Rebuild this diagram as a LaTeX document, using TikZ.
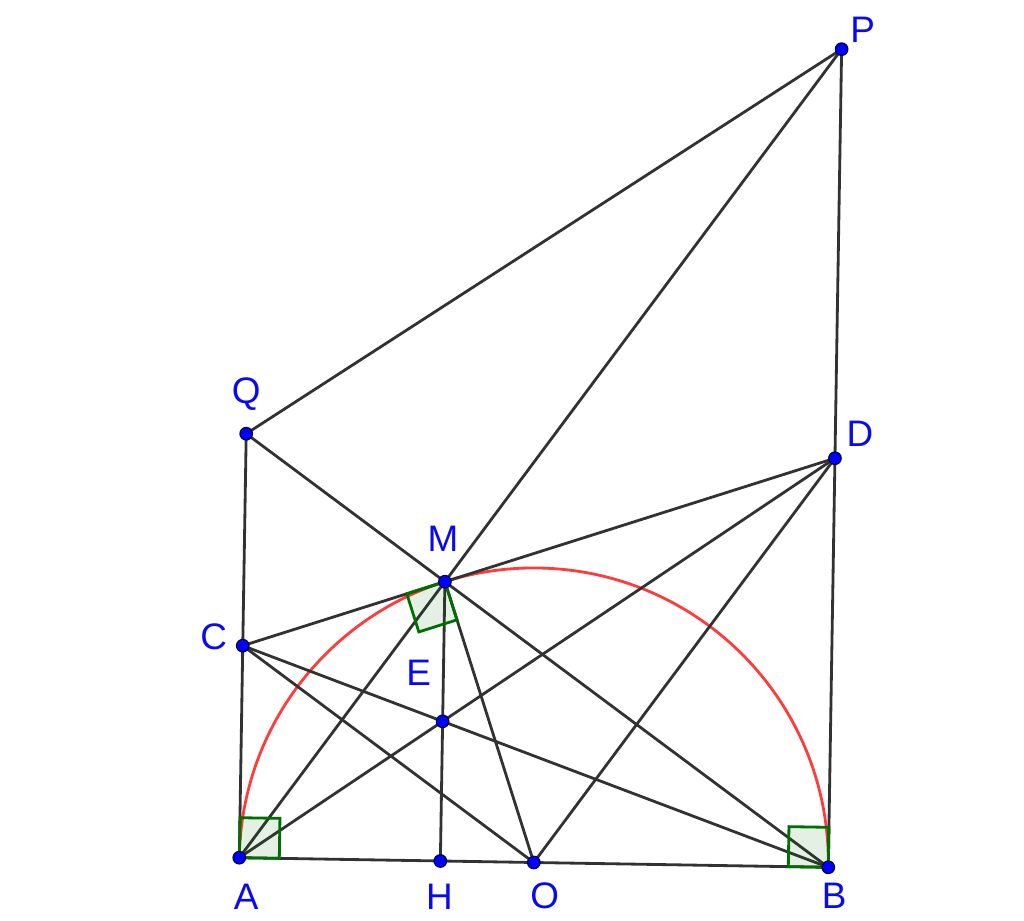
\documentclass[tikz,border=0pt]{standalone}
\usepackage{fontspec}
\setmainfont{Liberation Sans}
\usetikzlibrary{calc}
\definecolor{segc}{RGB}{50,50,50}
\definecolor{arcred}{RGB}{255,60,60}
\definecolor{ptblue}{RGB}{0,0,255}
\definecolor{ptdark}{RGB}{0,0,80}
\definecolor{lblblue}{RGB}{10,10,240}
\definecolor{angg}{RGB}{0,110,0}
\begin{document}
\begin{tikzpicture}[
  seg/.style={draw=segc, line width=0.8pt},
  halfcirc/.style={draw=arcred, line width=0.8pt},
  ptdot/.style={circle, fill=ptblue, draw=ptdark, line width=0.35pt, inner sep=0pt, minimum size=0.125cm},
  lbl/.style={text=lblblue, font=\fontsize{10.5}{12}\selectfont, inner sep=0pt},
  rightang/.style={draw=angg, fill=angg, fill opacity=0.1, line width=0.8pt}
]
\useasboundingbox (0,0) rectangle (10.24,9.20);
\pgfmathsetmacro{\cth}{cos(108.5)}
\pgfmathsetmacro{\sth}{sin(108.5)}
\begin{scope}[shift={(5.338,0.575)}, rotate=-0.934, scale=2.9454]
  \coordinate (A) at (-1,0);
  \coordinate (B) at (1,0);
  \coordinate (O) at (0,0);
  \coordinate (M) at (\cth,\sth);
  \coordinate (H) at (\cth,0);
  \coordinate (E) at (\cth,{\sth/2});
  \coordinate (C) at (-1,{(1+\cth)/\sth});
  \coordinate (D) at (1,{(1-\cth)/\sth});
  \coordinate (P) at (1,{2*\sth/(1+\cth)});
  \coordinate (Q) at (-1,{2*\sth/(1-\cth)});
  % semicircle
  \draw[halfcirc] (1,0) arc[start angle=0, end angle=180, radius=1];
\end{scope}
% segments
\draw[seg] (A) -- (B);
\draw[seg] (A) -- (Q);
\draw[seg] (B) -- (P);
\draw[seg] (Q) -- (P);
\draw[seg] (Q) -- (B);
\draw[seg] (A) -- (P);
\draw[seg] (C) -- (D);
\draw[seg] (C) -- (O);
\draw[seg] (C) -- (B);
\draw[seg] (A) -- (D);
\draw[seg] (O) -- (D);
\draw[seg] (M) -- (O);
\draw[seg] (M) -- (H);
% right angles
\coordinate (a1) at ($(A)!0.4cm!(B)$);
\coordinate (a2) at ($(A)!0.4cm!(C)$);
\draw[rightang] (A) -- (a1) -- ($(a1)+(a2)-(A)$) -- (a2) -- cycle;
\coordinate (b1) at ($(B)!0.4cm!(A)$);
\coordinate (b2) at ($(B)!0.4cm!(D)$);
\draw[rightang] (B) -- (b1) -- ($(b1)+(b2)-(B)$) -- (b2) -- cycle;
\coordinate (m1) at ($(M)!0.4cm!(C)$);
\coordinate (m2) at ($(M)!0.4cm!(O)$);
\draw[rightang] (M) -- (m1) -- ($(m1)+(m2)-(M)$) -- (m2) -- cycle;
% points
\foreach \p in {A,B,O,M,H,E,C,D,P,Q} {
  \node[ptdot] (pt\p) at (\p) {};
}
% labels
\node[lbl] (lA) at ($(A)+(0.07,-0.39)$) {A};
\node[lbl] (lH) at ($(H)+(-0.01,-0.36)$) {H};
\node[lbl] (lO) at ($(O)+(0.11,-0.33)$) {O};
\node[lbl] (lB) at ($(B)+(0.06,-0.29)$) {B};
\node[lbl] (lM) at ($(M)+(-0.02,0.43)$) {M};
\node[lbl] (lE) at ($(E)+(-0.24,0.49)$) {E};
\node[lbl] (lC) at ($(C)+(-0.29,0.09)$) {C};
\node[lbl] (lD) at ($(D)+(0.25,0.24)$) {D};
\node[lbl] (lP) at ($(P)+(0.21,0.19)$) {P};
\node[lbl] (lQ) at ($(Q)+(0.0,0.40)$) {Q};
\end{tikzpicture}
\end{document}
